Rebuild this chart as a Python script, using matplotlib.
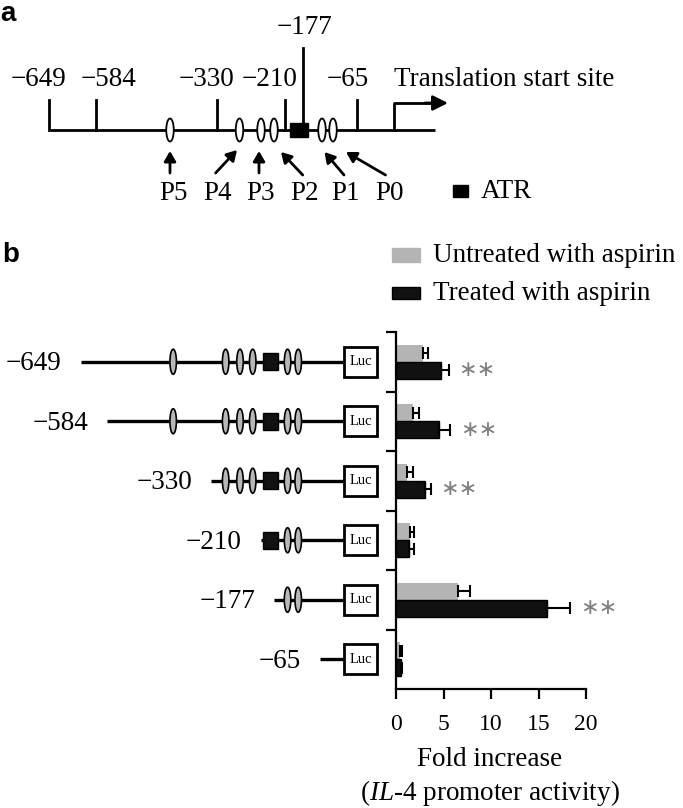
"""IL-4 promoter deletion constructs and luciferase activity (panel a map, panel b bars)."""
import numpy as np
import matplotlib
matplotlib.use("Agg")
import matplotlib.pyplot as plt
from matplotlib.patches import Ellipse, Rectangle

plt.rcParams["font.family"] = ["Liberation Serif", "DejaVu Serif"]
plt.rcParams["mathtext.fontset"] = "custom"
plt.rcParams["mathtext.rm"] = "Liberation Serif"
plt.rcParams["mathtext.it"] = "Liberation Serif:italic"

# ---- data ----
constructs = ["\u2212649", "\u2212584", "\u2212330", "\u2212210", "\u2212177", "\u221265"]
construct_bp = [-649, -584, -330, -210, -177, -65]
untreated = [2.8, 1.8, 1.2, 1.5, 6.5, 0.4]
untreated_err = [0.6, 0.6, 0.6, 0.35, 1.3, 0.2]
treated = [4.7, 4.5, 3.0, 1.4, 15.9, 0.5]
treated_err = [0.85, 1.2, 0.65, 0.5, 2.4, 0.1]
significant = [True, True, True, False, True, False]
site_labels = ["P5", "P4", "P3", "P2", "P1", "P0"]
site_bp = [-423, -295, -260, -229, -144, -118]
atr_bp = (-203, -168)
xticks = [0, 5, 10, 15, 20]

# ---- layout (pixel space of the 683x808 canvas) ----
W, H = 683, 808
K = "black"
fig = plt.figure(figsize=(W / 100, H / 100), dpi=100)
ax0 = fig.add_axes([0, 0, 1, 1])
ax0.set_xlim(0, W)
ax0.set_ylim(H, 0)
ax0.axis("off")

FS = 19.5
ax0.text(0, 14, "a", family="Liberation Sans", weight="bold", fontsize=20, va="center")
ax0.text(2, 255, "b", family="Liberation Sans", weight="bold", fontsize=20, va="center")

# panel a: promoter map (schematic, not to scale)
map_y = 130
tick_x = [48.8, 95.8, 216.5, 285, 357]
tick_lab_x = [38, 109, 207, 270, 348]
ax0.plot([50, 435], [map_y, map_y], color=K, lw=2, solid_capstyle="butt")
for tx, lx, lab in zip(tick_x, tick_lab_x, [constructs[i] for i in (0, 1, 2, 3, 5)]):
    ax0.plot([tx, tx], [100, map_y], color=K, lw=2)
    ax0.text(lx, 79, lab, fontsize=FS, ha="center", va="center")
ax0.plot([302.7, 302.7], [48, map_y], color=K, lw=2)
ax0.text(304, 28, constructs[4], fontsize=FS, ha="center", va="center")

ax0.plot([394, 394, 430], [map_y, 103, 103], color=K, lw=2)
ax0.annotate("", xy=(448, 103), xytext=(425, 103),
             arrowprops=dict(arrowstyle="-|>,head_length=0.9,head_width=0.45",
                             color=K, lw=2, shrinkA=0, shrinkB=0))
ax0.text(394, 79, "Translation start site", fontsize=FS, ha="left", va="center")

site_x = [170, 239.5, 261, 274, 322, 333]
for sx in site_x:
    ax0.add_patch(Ellipse((sx, map_y), 7.5, 23, facecolor="white", edgecolor=K, lw=1.3, zorder=3))
ax0.add_patch(Rectangle((290, map_y - 7), 18, 14, facecolor=K, edgecolor=K, zorder=3))

arrow_tail = [(170, 173), (215.6, 173), (259, 173), (302.7, 175), (344, 175), (385.5, 175)]
arrow_head = [(170, 151), (237, 150), (259, 151), (281, 152), (324.5, 152), (346, 152)]
lab_x = [174, 218, 261, 305, 346, 390]
for t, h, lx, lab in zip(arrow_tail, arrow_head, lab_x, site_labels):
    ax0.annotate("", xy=h, xytext=t,
                 arrowprops=dict(arrowstyle="-|>,head_length=0.6,head_width=0.35",
                                 color=K, lw=2, shrinkA=0, shrinkB=0))
    ax0.text(lx, 193, lab, fontsize=FS, ha="center", va="center")
ax0.add_patch(Rectangle((453, 185), 15, 12, facecolor=K, edgecolor=K))
ax0.text(481, 192, "ATR", fontsize=FS, ha="left", va="center")

# panel b legend
ax0.add_patch(Rectangle((392, 248), 28, 14, facecolor="#b4b4b4", edgecolor="#b4b4b4"))
ax0.text(433, 255, "Untreated with aspirin", fontsize=FS, ha="left", va="center")
ax0.add_patch(Rectangle((392, 287), 28, 12, facecolor="#111111", edgecolor=K))
ax0.text(433, 293, "Treated with aspirin", fontsize=FS, ha="left", va="center")

# panel b constructs
def bp2x(bp):
    return 346.6 + 0.41 * bp

row0, row_step = 361.75, 59.5
for i, (lab, start) in enumerate(zip(constructs, construct_bp)):
    y = row0 + i * row_step
    x0 = bp2x(start)
    ax0.plot([x0, 344], [y, y], color=K, lw=2.4, solid_capstyle="butt", zorder=1)
    ax0.text(x0 - 19, y + 2, lab, fontsize=FS, ha="right", va="center")
    if start <= atr_bp[0]:
        ax0.add_patch(Rectangle((bp2x(atr_bp[0]), y - 8.5), bp2x(atr_bp[1]) - bp2x(atr_bp[0]), 17,
                                facecolor="#111111", edgecolor=K, zorder=3))
    for sb in site_bp:
        if sb > start:
            ax0.add_patch(Ellipse((bp2x(sb), y), 6.5, 25, facecolor="#b8b8b8", edgecolor=K, lw=1.2, zorder=3))
    ax0.add_patch(Rectangle((344, y - 15), 33, 30, facecolor="white", edgecolor=K, lw=2, zorder=3))
    ax0.text(360.5, y, "Luc", fontsize=10.5, ha="center", va="center", zorder=4)

# panel b bar chart
axb = fig.add_axes([396 / W, (H - 689) / H, 190 / W, 357 / H])
axb.patch.set_alpha(0)
ypos = np.arange(len(constructs))
bh = 0.285
zeros = np.zeros(len(constructs))
err_kw = dict(lw=1.5, capthick=1.5, ecolor=K)
axb.barh(ypos - bh / 2, untreated, height=bh, color="#b4b4b4",
         xerr=[zeros, untreated_err], capsize=4, error_kw=err_kw)
axb.barh(ypos + bh / 2, treated, height=bh, color="#111111", edgecolor=K,
         xerr=[zeros, treated_err], capsize=4, error_kw=err_kw)
for i, sig in enumerate(significant):
    if sig:
        axb.text(treated[i] + treated_err[i] + 3.0, ypos[i] + bh / 2, "\u2217\u2217",
                 family="DejaVu Sans", fontsize=16, color="#808080", ha="center", va="center",
                 clip_on=False)
axb.set_xlim(0, 20)
axb.set_ylim(len(constructs) - 0.5, -0.5)
axb.set_xticks(xticks)
axb.set_xticklabels([str(t) for t in xticks])
axb.set_yticks(np.arange(len(constructs)) - 0.5)
axb.set_yticklabels([])
for s in ("top", "right"):
    axb.spines[s].set_visible(False)
for s in ("left", "bottom"):
    axb.spines[s].set_linewidth(1.6)
axb.tick_params(axis="both", direction="out", length=7, width=1.6)
axb.tick_params(axis="x", labelsize=17, pad=11)

ax0.text(490, 760, "Fold increase", fontsize=FS, ha="center", va="center")
ax0.text(490, 793, r"($\it{IL}$-$\it{4}$ promoter activity)", fontsize=FS, ha="center", va="center")

fig.savefig("out.png", dpi=100)
